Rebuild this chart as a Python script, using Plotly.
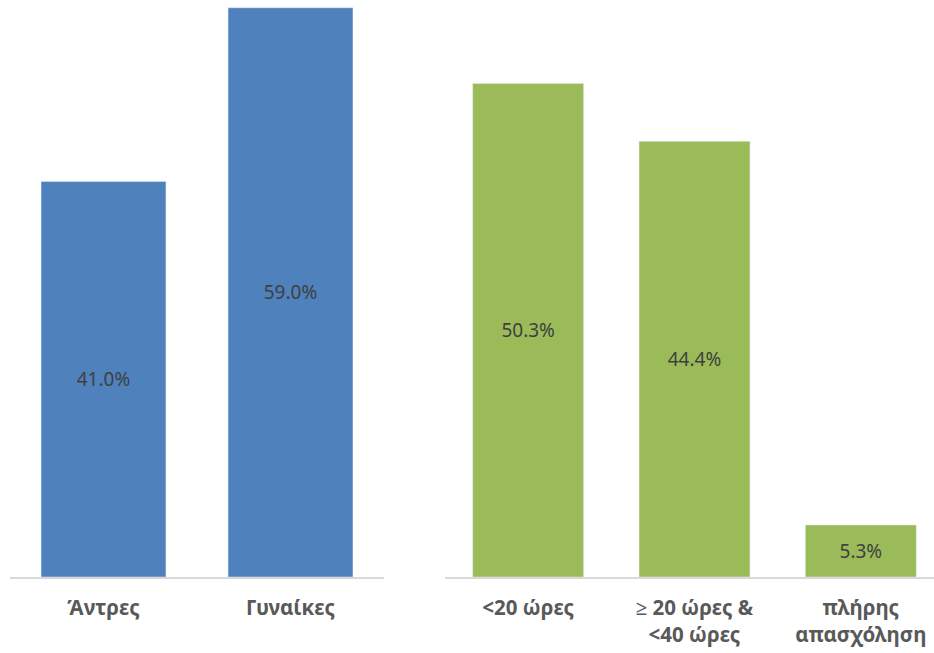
import plotly.graph_objects as go
from plotly.subplots import make_subplots

gender_categories = ["Άντρες", "Γυναίκες"]
gender_values = [41.0, 59.0]
hours_categories = ["<20 ώρες", "≥ 20 ώρες &<br><40 ώρες", "πλήρης<br>απασχόληση"]
hours_values = [50.3, 44.4, 5.3]

W, H = 934, 653
fig = make_subplots(rows=1, cols=2)

label_font = dict(family="Noto Sans", size=19, color="#404040")

fig.add_trace(go.Bar(
    x=gender_categories, y=gender_values, marker_color="#4F81BD",
    text=[f"{v:.1f}%" for v in gender_values], textposition="inside",
    insidetextanchor="middle", textangle=0, textfont=label_font,
    width=0.668, hoverinfo="skip"), row=1, col=1)

fig.add_trace(go.Bar(
    x=hours_categories, y=hours_values, marker_color="#9BBB59",
    text=[f"{v:.1f}%" for v in hours_values], textposition="inside",
    insidetextanchor="middle", textangle=0, textfont=label_font,
    width=0.667, hoverinfo="skip"), row=1, col=2)

axis_common = dict(
    showgrid=False, zeroline=False, showline=True, linecolor="#D9D9D9", linewidth=1.5,
    ticks="outside", ticklen=12, tickcolor="rgba(0,0,0,0)",
    tickfont=dict(family="Noto Sans", size=20.5, color="#595959", weight="bold"),
    fixedrange=True,
)
fig.update_xaxes(**axis_common)
fig.update_xaxes(domain=[10 / W, 384 / W], range=[-0.5, 1.5], row=1, col=1)
fig.update_xaxes(domain=[445 / W, 1.0], range=[-0.5, 2.44], row=1, col=2)
fig.update_yaxes(visible=False, showgrid=False, zeroline=False, fixedrange=True)
fig.update_yaxes(range=[0, 59.8], row=1, col=1)
fig.update_yaxes(range=[0, 58.8], row=1, col=2)

fig.update_layout(
    width=W, height=H, margin=dict(l=0, r=0, t=0, b=76),
    plot_bgcolor="white", paper_bgcolor="white", showlegend=False,
    uniformtext=dict(mode=False),
)
fig.write_html("out.html", config={"displayModeBar": False})
